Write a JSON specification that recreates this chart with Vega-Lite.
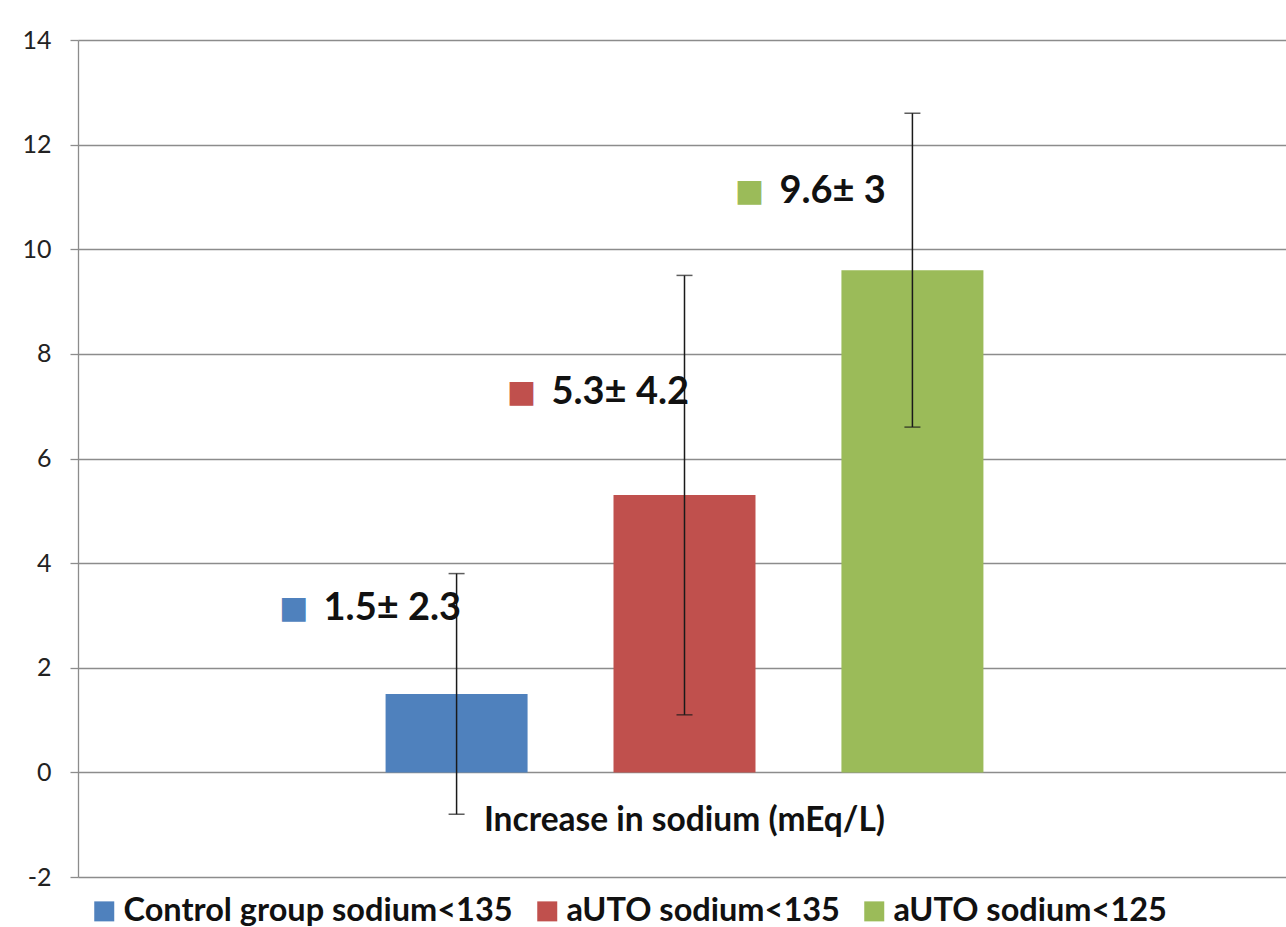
{
  "$schema": "https://vega.github.io/schema/vega-lite/v6.json",
  "width": 1213,
  "height": 837,
  "autosize": {"type": "none"},
  "padding": {"left": 78, "top": 40, "right": 0, "bottom": 50},
  "background": "white",
  "config": {
    "view": {"stroke": null},
    "font": "Lato"
  },
  "data": {
    "values": [
      {"cat": "Increase in sodium (mEq/L)", "series": "Control group sodium<135", "mean": 1.5, "lo": -0.8, "hi": 3.8, "label": "1.5± 2.3", "label_y": 3.13},
      {"cat": "Increase in sodium (mEq/L)", "series": "aUTO sodium<135", "mean": 5.3, "lo": 1.1, "hi": 9.5, "label": "5.3± 4.2", "label_y": 7.25},
      {"cat": "Increase in sodium (mEq/L)", "series": "aUTO sodium<125", "mean": 9.6, "lo": 6.6, "hi": 12.6, "label": "9.6± 3", "label_y": 11.1}
    ]
  },
  "encoding": {
    "x": {
      "field": "cat",
      "type": "nominal",
      "title": null,
      "scale": {"paddingInner": 0, "paddingOuter": 0.387},
      "axis": {
        "domain": false,
        "ticks": false,
        "grid": false,
        "labelAngle": 0,
        "labelFont": "Lato",
        "labelFontSize": 33.5,
        "labelFontWeight": "bold",
        "labelColor": "#111111",
        "labelPadding": -73,
        "labelLimit": 900
      }
    },
    "xOffset": {
      "field": "series",
      "type": "nominal",
      "sort": ["Control group sodium<135", "aUTO sodium<135", "aUTO sodium<125"],
      "scale": {"paddingInner": 0.377, "paddingOuter": 0.1885}
    }
  },
  "layer": [
    {
      "mark": {"type": "bar"},
      "encoding": {
        "y": {
          "field": "mean",
          "type": "quantitative",
          "title": null,
          "scale": {"domain": [-2, 14], "nice": false, "zero": false},
          "axis": {
            "values": [-2, 0, 2, 4, 6, 8, 10, 12, 14],
            "labelExpr": "'' + datum.value",
            "grid": true,
            "gridColor": "#8c8c8c",
            "gridWidth": 1.3,
            "domainColor": "#8c8c8c",
            "domainWidth": 1.3,
            "tickColor": "#8c8c8c",
            "tickSize": 8,
            "tickWidth": 1.3,
            "labelFont": "Lato",
            "labelFontSize": 25,
            "labelColor": "#222222",
            "labelPadding": 19
          }
        },
        "y2": {"datum": 0},
        "color": {
          "field": "series",
          "type": "nominal",
          "sort": ["Control group sodium<135", "aUTO sodium<135", "aUTO sodium<125"],
          "scale": {"range": ["#4F81BD", "#C0504D", "#9BBB59"]},
          "legend": {
            "title": null,
            "orient": "none",
            "legendX": 10,
            "legendY": 855,
            "direction": "horizontal",
            "padding": 0,
            "symbolType": "square",
            "symbolSize": 400,
            "symbolStrokeWidth": 0,
            "symbolOpacity": 1,
            "labelFont": "Lato",
            "labelFontSize": 32.5,
            "labelFontWeight": "bold",
            "labelColor": "#111111",
            "labelOffset": 3,
            "columnPadding": 18,
            "labelLimit": 600
          }
        }
      }
    },
    {
      "mark": {"type": "rule", "color": "#1a1a1a", "strokeWidth": 1.5},
      "encoding": {
        "y": {"field": "lo", "type": "quantitative"},
        "y2": {"field": "hi"}
      }
    },
    {
      "mark": {"type": "tick", "color": "#1a1a1a", "size": 16, "thickness": 1.5, "orient": "horizontal"},
      "encoding": {
        "y": {"field": "lo", "type": "quantitative"}
      }
    },
    {
      "mark": {"type": "tick", "color": "#1a1a1a", "size": 16, "thickness": 1.5, "orient": "horizontal"},
      "encoding": {
        "y": {"field": "hi", "type": "quantitative"}
      }
    },
    {
      "mark": {"type": "text", "text": "■", "align": "center", "baseline": "middle", "dx": -163, "dy": 0, "font": "DejaVu Sans", "fontSize": 31},
      "encoding": {
        "y": {"field": "label_y", "type": "quantitative"},
        "color": {"field": "series", "type": "nominal", "sort": ["Control group sodium<135", "aUTO sodium<135", "aUTO sodium<125"], "legend": null}
      }
    },
    {
      "mark": {"type": "text", "align": "left", "baseline": "middle", "dx": -133, "font": "Lato", "fontSize": 38, "fontWeight": "bold", "color": "#111111"},
      "encoding": {
        "y": {"field": "label_y", "type": "quantitative"},
        "text": {"field": "label"}
      }
    }
  ]
}
